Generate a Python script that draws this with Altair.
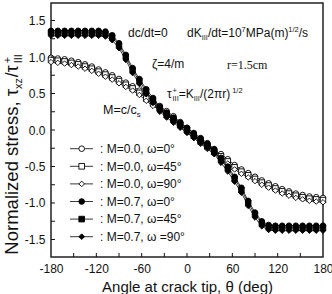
import altair as alt
import pandas as pd

# ---- data ---------------------------------------------------------------
theta = list(range(-180, 181, 9))  # crack-tip angle, deg (41 points)

m0_w0 = [0.99, 0.98, 0.97, 0.95, 0.93, 0.90, 0.87, 0.83, 0.79, 0.75, 0.70, 0.65, 0.60, 0.54, 0.46, 0.39, 0.33, 0.26, 0.19, 0.11,
         0.03,
         -0.05, -0.13, -0.20, -0.27, -0.33, -0.40, -0.48, -0.54, -0.59, -0.64, -0.69, -0.73, -0.77, -0.81, -0.84, -0.87, -0.89, -0.91, -0.92, -0.93]
m0_w45 = [0.96, 0.95, 0.94, 0.92, 0.90, 0.87, 0.84, 0.80, 0.76, 0.72, 0.67, 0.62, 0.57, 0.51, 0.43, 0.36, 0.30, 0.23, 0.16, 0.08,
          0.00,
          -0.08, -0.16, -0.23, -0.30, -0.36, -0.43, -0.51, -0.57, -0.62, -0.67, -0.72, -0.76, -0.80, -0.84, -0.87, -0.90, -0.92, -0.94, -0.95, -0.96]
m0_w90 = [0.93, 0.92, 0.91, 0.89, 0.87, 0.84, 0.81, 0.77, 0.73, 0.69, 0.64, 0.59, 0.54, 0.48, 0.40, 0.33, 0.27, 0.20, 0.13, 0.05,
          -0.03,
          -0.11, -0.19, -0.26, -0.33, -0.39, -0.46, -0.54, -0.60, -0.65, -0.70, -0.75, -0.79, -0.83, -0.87, -0.90, -0.93, -0.95, -0.97, -0.98, -0.99]
m7_w0 = [1.36, 1.36, 1.36, 1.36, 1.36, 1.36, 1.36, 1.36, 1.35, 1.30, 1.19, 1.03, 0.85, 0.70, 0.56, 0.44, 0.32, 0.24, 0.17, 0.10,
         0.03,
         -0.04, -0.11, -0.18, -0.26, -0.38, -0.50, -0.64, -0.79, -0.97, -1.13, -1.25, -1.30, -1.31, -1.31, -1.31, -1.31, -1.31, -1.31, -1.31, -1.31]
m7_w45 = [1.33, 1.33, 1.33, 1.33, 1.33, 1.33, 1.33, 1.33, 1.32, 1.27, 1.16, 1.00, 0.82, 0.67, 0.53, 0.41, 0.29, 0.21, 0.14, 0.07,
          0.00,
          -0.07, -0.14, -0.21, -0.29, -0.41, -0.53, -0.67, -0.82, -1.00, -1.16, -1.28, -1.33, -1.34, -1.34, -1.34, -1.34, -1.34, -1.34, -1.34, -1.34]
m7_w90 = [1.29, 1.29, 1.29, 1.29, 1.29, 1.29, 1.29, 1.29, 1.28, 1.23, 1.12, 0.96, 0.78, 0.63, 0.49, 0.37, 0.25, 0.17, 0.10, 0.03,
          -0.04,
          -0.11, -0.18, -0.25, -0.33, -0.45, -0.57, -0.71, -0.86, -1.04, -1.20, -1.32, -1.37, -1.38, -1.38, -1.38, -1.38, -1.38, -1.38, -1.38, -1.38]

series_labels = ["M=0.0, ω=0°", "M=0.0, ω=45°", "M=0.0, ω=90°",
                 "M=0.7, ω=0°", "M=0.7, ω=45°", "M=0.7, ω =90°"]
series_values = [m0_w0, m0_w45, m0_w90, m7_w0, m7_w45, m7_w90]
series_shapes = ["circle", "square", "diamond", "circle", "square", "diamond"]
series_fills = ["white", "white", "white", "black", "black", "black"]

x_labels = [-180, -120, -60, 0, 60, 120, 180]
x_ticks = [-150, -120, -90, -60, -30, 0, 30, 60, 90, 120, 150]
y_labels = [-1.5, -1.0, -0.5, 0.0, 0.5, 1.0, 1.5]
y_ticks = [-1.5, -1.25, -1.0, -0.75, -0.5, -0.25, 0.0, 0.25, 0.5, 0.75, 1.0, 1.25, 1.5]

# ---- layout -------------------------------------------------------------
W, H = 272, 254
X_DOM = [-180, 180]
Y_DOM = [-1.74, 1.74]
FONT = "Liberation Sans"
INK = "#111111"


def to_x(px):
    return X_DOM[0] + px * (X_DOM[1] - X_DOM[0]) / W


def to_y(py):
    return Y_DOM[1] - py * (Y_DOM[1] - Y_DOM[0]) / H


# approximate glyph advances (em) for laying out sub/superscripts
ADV = {" ": .278, "(": .333, ")": .333, "+": .584, ",": .278, "-": .333, ".": .278, "/": .278,
       "=": .584, "A": .667, "I": .278, "K": .667, "M": .833, "N": .722, "P": .667,
       "a": .556, "c": .5, "d": .556, "e": .556, "g": .556, "i": .222, "k": .5, "l": .222,
       "m": .833, "n": .556, "o": .556, "p": .556, "r": .333, "s": .5, "t": .278, "x": .5,
       "z": .5, "τ": .46, "π": .58, "ζ": .46, "θ": .556, "ω": .78, "°": .4}


def rich(parts, x0, y0, size, rotated=False):
    """Lay out (text, mode) pieces; mode is n / sub / sup / supk (sup, no advance)."""
    rows, adv = [], 0.0
    for txt, mode in parts:
        s = size if mode == "n" else size * 0.62
        shift = {"n": 0.0, "sub": 0.22 * size, "sup": -0.42 * size, "supk": -0.42 * size}[mode]
        w = sum(ADV.get(c, .556) for c in txt) * s
        if rotated:
            px, py = x0 + shift, y0 - adv
        else:
            px, py = x0 + adv, y0 + shift
        rows.append({"text": txt, "x": to_x(px), "y": to_y(py), "size": s, "align": "left"})
        if mode != "supk":
            adv += w + (1.0 if rotated else 0.0)
    return rows


xs = alt.Scale(domain=X_DOM, nice=False, zero=False)
ys = alt.Scale(domain=Y_DOM, nice=False, zero=False)
shape_scale = alt.Scale(domain=series_labels, range=series_shapes)
fill_scale = alt.Scale(domain=series_labels, range=series_fills)

rows = []
for lab, vals in zip(series_labels, series_values):
    for t, v in zip(theta, vals):
        rows.append({"theta": t, "v": v, "series": lab})
df = pd.DataFrame(rows)

x_axis = alt.Axis(values=x_labels, ticks=False, domain=False, grid=False, labelPadding=6,
                  labelFlush=False, labelFontSize=12, labelFont=FONT, labelColor=INK,
                  labelExpr="datum.value < 0 ? '-' + format(-datum.value, 'd') : format(datum.value, 'd')",
                  title="Angle at crack tip, θ (deg)", titleFont=FONT, titleFontSize=15,
                  titleFontWeight="normal", titleColor=INK, titlePadding=5)
y_axis = alt.Axis(values=y_labels, ticks=False, domain=False, grid=False, labelPadding=6,
                  labelFlush=False, labelFontSize=12, labelFont=FONT, labelColor=INK,
                  labelExpr="datum.value < 0 ? '-' + format(-datum.value, '.1f') : format(datum.value, '.1f')",
                  title=None)


def X(field):
    return alt.X(field, scale=xs, axis=x_axis)


def Y(field):
    return alt.Y(field, scale=ys, axis=y_axis)


base = alt.Chart(df).encode(x=X("theta:Q"), y=Y("v:Q"))
lines = base.mark_line(color="#222222", strokeWidth=0.9).encode(detail="series:N")
points = base.mark_point(filled=True, stroke="black", strokeWidth=0.9, size=30, opacity=1).encode(
    shape=alt.Shape("series:N", scale=shape_scale, legend=None),
    fill=alt.Fill("series:N", scale=fill_scale, legend=None),
)

# inward ticks on the bottom and left frame edges
xtick = alt.Chart(pd.DataFrame({"t": x_ticks})).mark_rule(color=INK, strokeWidth=1).encode(
    x=X("t:Q"), y=alt.value(H), y2=alt.value(H - 4))
ytick = alt.Chart(pd.DataFrame({"t": y_ticks})).mark_rule(color=INK, strokeWidth=1).encode(
    y=Y("t:Q"), x=alt.value(0), x2=alt.value(4))

# legend inside the plot, lower left
leg_y0, leg_dy = 145.7, 17.6
leg = pd.DataFrame({
    "series": series_labels,
    "x": [to_x(30.7)] * 6, "x1": [to_x(19)] * 6, "x2": [to_x(42)] * 6,
    "y": [to_y(leg_y0 + i * leg_dy) for i in range(6)],
    "ty": [to_y(leg_y0 + i * leg_dy + 4.3) for i in range(6)],
    "tx": [to_x(49)] * 6,
    "label": [": " + s for s in series_labels],
})
leg_lines = alt.Chart(leg).mark_rule(color="#222222", strokeWidth=0.9).encode(
    x=X("x1:Q"), x2="x2:Q", y=Y("y:Q"))
leg_pts = alt.Chart(leg).mark_point(filled=True, stroke="black", strokeWidth=0.9, size=32, opacity=1).encode(
    x=X("x:Q"), y=Y("y:Q"),
    shape=alt.Shape("series:N", scale=shape_scale, legend=None),
    fill=alt.Fill("series:N", scale=fill_scale, legend=None))
leg_txt = alt.Chart(leg).mark_text(align="left", baseline="alphabetic", font=FONT, fontSize=12,
                                   color=INK).encode(x=X("tx:Q"), y=Y("ty:Q"), text="label:N")

# annotations
notes = []
notes += rich([("dc/dt=0", "n")], 77, 34, 12)
notes += rich([("dK", "n"), ("III", "sub"), ("/dt=10", "n"), ("7", "sup"), ("MPa(m)", "n"),
               ("1/2", "sup"), ("/s", "n")], 136, 34, 12)
notes += rich([("ζ=4/m", "n")], 101, 65, 12)
notes += rich([("τ", "n"), ("+", "supk"), ("III", "sub"), ("=K", "n"), ("III", "sub"),
               (" /(2πr)", "n"), ("1/2", "sup")], 116, 95, 12)
notes += rich([("M=c/c", "n"), ("s", "sub")], 52, 111, 12.5)
notes_df = pd.DataFrame(notes)

serif_df = pd.DataFrame(rich([("r=1.5cm", "n")], 176, 66, 12))

# vertical title: the long lead-in ends exactly where the small pieces start
TITLE_BASE_X, TITLE_JOIN_Y = -33, 86
ytitle_rows = [{"text": "Normalized stress, τ", "x": to_x(TITLE_BASE_X), "y": to_y(TITLE_JOIN_Y),
                "size": 18.5, "align": "right"}]
ytitle_rows += rich([("xz", "sub"), ("/τ", "n"), ("+", "supk"), ("III", "sub")],
                    TITLE_BASE_X, TITLE_JOIN_Y, 17.5, rotated=True)
ytitle_df = pd.DataFrame(ytitle_rows)


def text_layer(d, **kw):
    return alt.Chart(d).mark_text(baseline="alphabetic", color=INK, **kw).encode(
        x=X("x:Q"), y=Y("y:Q"),
        text="text:N", size=alt.Size("size:Q", scale=None, legend=None))


notes_layer = text_layer(notes_df, font=FONT, align="left")
serif_layer = text_layer(serif_df, font="Liberation Serif", align="left")
ytitle_lead = text_layer(ytitle_df[ytitle_df["align"] == "right"], font=FONT, angle=270, align="right")
ytitle_tail = text_layer(ytitle_df[ytitle_df["align"] == "left"], font=FONT, angle=270, align="left")

chart = alt.layer(
    lines, points, xtick, ytick, leg_lines, leg_pts, leg_txt, notes_layer, serif_layer,
    ytitle_lead, ytitle_tail
).properties(
    width=W, height=H, autosize="none", background="white",
    padding={"left": 51, "top": 3, "right": 9, "bottom": 37},
).configure_view(stroke="#222222", strokeWidth=1.5)

chart.save("out.html", embed_options={"renderer": "svg", "actions": False})
